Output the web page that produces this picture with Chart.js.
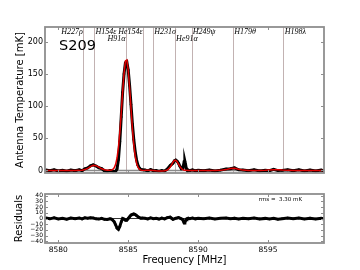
<!DOCTYPE html>
<html><head><meta charset="utf-8">
<script src="https://cdn.jsdelivr.net/npm/chart.js@4"></script>
<style>
html,body{margin:0;padding:0;background:#fff;}
#wrap{position:relative;width:360px;height:270px;overflow:hidden;}
canvas{position:absolute;left:0;}
</style></head><body>
<div id="wrap">
<canvas id="top" width="360" height="180" style="top:0"></canvas>
<canvas id="bot" width="360" height="90" style="top:180px"></canvas>
</div>
<script>
// ---- data ----
const freq = [
 8579.1,8579.4,8579.7,8580.0,8580.3,8580.6,8580.9,8581.2,8581.5,
 8581.7,8581.9,8582.1,8582.3,8582.5,8582.7,8582.9,8583.1,8583.3,8583.5,8583.7,8583.8,8583.9,
 8584.0,8584.1,8584.2,8584.3,8584.4,8584.5,8584.6,8584.7,8584.8,8584.9,8585.0,8585.1,8585.2,8585.3,8585.4,8585.5,8585.6,8585.7,8585.8,8585.9,8586.0,
 8586.2,8586.4,8586.6,8586.8,8587.0,8587.2,8587.4,8587.6,8587.8,8588.0,8588.1,8588.2,8588.3,8588.4,8588.5,8588.6,8588.7,8588.8,8588.9,8588.95,8589.0,8589.05,8589.1,8589.15,8589.2,8589.3,8589.4,8589.6,8589.8,8590.0,
 8590.4,8590.8,8591.2,8591.6,8592.0,8592.3,8592.6,8592.9,8593.2,8593.6,8594.0,8594.4,8594.8,8595.1,8595.4,8595.7,8596.0,8596.4,8596.8,8597.2,8597.6,8598.0,8598.4,8598.8,8598.95
];
const tData = [
 0.8,-0.6,1.1,-0.9,0.4,-1.2,0.7,-0.3,1.1,
 -0.4,2.5,3.8,7.1,8.7,6.9,4.2,3.0,-0.5,-1.5,-0.3,-0.4,-1.3,
 -1.8,-1.5,2.4,16.7,45.4,83.5,122.0,150.5,168.0,169.5,157.0,132.5,102.9,72.5,48.2,29.3,16.2,8.0,3.6,1.3,1.1,
 0.6,-0.6,1.2,-0.5,-0.1,-1.7,-0.1,-1.2,2.2,7.5,9.3,11.3,15.0,16.3,14.5,11.2,6.4,2.5,3.0,7.5,13.5,14.5,9.5,3.5,1.0,0.5,-0.5,0.8,-0.6,0.4,
 -0.5,0.7,-0.9,0.5,2.2,2.6,4.0,1.0,0.8,-0.6,1.0,-0.7,0.4,-0.3,1.7,-0.2,0.1,0.9,-0.5,0.9,-0.8,0.6,-0.9,0.5,-0.3
];
const tModel = [
 0,0,0,0,0,0,0,0,0.1,
 0.4,1.3,3.3,6.0,7.9,7.5,5.2,2.6,1.0,0.3,0.2,0.6,1.7,
 4.2,9.5,19.4,35.7,59.4,89.5,122.0,151.5,171.0,172.5,157.0,129.5,96.9,65.5,40.2,22.3,11.2,5.0,2.1,0.8,0.3,
 0.1,0.2,0.2,0.0,-0.4,-0.7,-0.7,-0.4,0.7,5.0,8.8,12.8,15.5,15.8,13.5,9.7,5.9,3.0,1.3,0.8,0.5,0.3,0.2,0.1,0.1,0,0,0,0,0,
 0,0,0,0.1,1.3,3.0,3.4,1.8,0.5,0,0,0,0.2,0.7,1.2,1.1,0.5,0.1,0,0,0,0,0,0,0
];
const resid = [
 0.8,-0.6,1.1,-0.9,0.4,-1.2,0.7,-0.3,1.0,
 -0.8,1.2,0.5,1.1,0.8,-0.6,-1.0,0.4,-1.5,-1.8,-0.5,-1.0,-3.0,
 -6,-11,-17,-19,-14,-6,0,-1,-3,-3,0,3,6,7,8,7,5,3,1.5,0.5,0.8,
 0.5,-0.8,1.0,-0.5,0.3,-1.0,0.6,-0.8,1.5,2.5,0.5,-1.5,-0.5,0.5,1.0,1.5,0.5,-0.5,-2,-5,-8,-7,-4,-2,-0.5,0.5,-0.5,0.8,-0.6,0.4,
 -0.5,0.7,-0.9,0.4,0.9,-0.4,0.6,-0.8,0.3,-0.6,1.0,-0.7,0.2,-1.0,0.5,-1.3,-0.4,0.8,-0.5,0.9,-0.8,0.6,-0.9,0.5,-0.3
];
const lineFreqs  = [8581.79, 8582.57, 8584.84, 8586.07, 8586.78, 8588.34, 8589.53, 8592.50, 8596.10];
const lineLabels = ['H227ρ','H154ε','H91α','He154ε','H231σ','He91α','H249ψ','H179θ','H198λ'];
const xTicks = [8580, 8585, 8590, 8595];
const yTicksTop = [0, 50, 100, 150, 200];
const yTicksRes = [40, 30, 20, 10, 0, -10, -20, -30, -40];
const sourceName = 'S209';
const rmsText = 'rms =  3.30 mK';

// ---- layout / style (not data) ----
const labelSide = ['L','R','L','L','R','R','R','R','R'];
const labelRow  = [0,0,1,0,0,1,0,0,0];
const FRAME = '#8e8e8e';

function minus(v){ return String(v).replace('-', '\u2212'); }

function decor(opts){
  return {
    id: 'decor',
    beforeDatasetsDraw(chart){
      const {ctx, chartArea:a, scales:{x, y}} = chart;
      ctx.save();
      if (opts.lines){
        ctx.strokeStyle = '#c2b2b2'; ctx.lineWidth = 1;
        lineFreqs.forEach(f => {
          const px = Math.round(x.getPixelForValue(f)) + 0.5;
          ctx.beginPath(); ctx.moveTo(px, a.top); ctx.lineTo(px, a.bottom); ctx.stroke();
        });
      }
      const y0 = y.getPixelForValue(0);
      ctx.strokeStyle = opts.zeroColor; ctx.lineWidth = opts.zeroWidth;
      ctx.beginPath(); ctx.moveTo(a.left, y0); ctx.lineTo(a.right, y0); ctx.stroke();
      ctx.restore();
    },
    afterDatasetsDraw(chart){
      const {ctx, chartArea:a, scales:{x, y}} = chart;
      ctx.save();
      ctx.strokeStyle = FRAME; ctx.lineWidth = 1.8;
      ctx.strokeRect(a.left, a.top, a.right - a.left, a.bottom - a.top);
      ctx.lineWidth = 1;
      xTicks.forEach(v => {
        const px = Math.round(x.getPixelForValue(v)) + 0.5;
        ctx.beginPath();
        ctx.moveTo(px, a.bottom); ctx.lineTo(px, a.bottom - 3);
        ctx.moveTo(px, a.top); ctx.lineTo(px, a.top + 3);
        ctx.stroke();
      });
      opts.yTicks.forEach(v => {
        const py = Math.round(y.getPixelForValue(v)) + 0.5;
        ctx.beginPath();
        ctx.moveTo(a.left, py); ctx.lineTo(a.left + 3, py);
        ctx.moveTo(a.right, py); ctx.lineTo(a.right - 3, py);
        ctx.stroke();
      });
      if (opts.lines){
        ctx.fillStyle = '#000';
        ctx.font = 'italic 8px "Liberation Serif"';
        ctx.textBaseline = 'alphabetic';
        lineFreqs.forEach((f, i) => {
          const px = x.getPixelForValue(f);
          const by = a.top + (labelRow[i] ? 14 : 7);
          if (labelSide[i] === 'L'){ ctx.textAlign = 'right'; ctx.fillText(lineLabels[i], px - 0.5, by); }
          else { ctx.textAlign = 'left'; ctx.fillText(lineLabels[i], px + 1.2, by); }
        });
        ctx.textAlign = 'left';
        ctx.font = '14.5px "DejaVu Sans"';
        ctx.fillText(sourceName, a.left + 14, a.top + 23);
      }
      if (opts.rms){
        ctx.fillStyle = '#000';
        ctx.font = '5.5px "DejaVu Sans"';
        ctx.textAlign = 'right'; ctx.textBaseline = 'middle';
        ctx.fillText(rmsText, a.right - 22, a.top + 6);
      }
      ctx.restore();
    }
  };
}

const common = { responsive:false, animation:false, devicePixelRatio:1, maintainAspectRatio:false,
  plugins:{ legend:{display:false}, tooltip:{enabled:false} } };

new Chart(document.getElementById('top'), {
  type: 'line',
  data: { datasets: [
    { data: freq.map((f,i)=>({x:f, y:tModel[i]})), borderColor:'#e00000', borderWidth:1.5, pointRadius:0, tension:0, order:0 },
    { data: freq.map((f,i)=>({x:f, y:tData[i]})), borderColor:'#000', borderWidth:3, pointRadius:1.3, pointBorderWidth:0, pointBackgroundColor:'#000', tension:0, order:1 }
  ]},
  options: Object.assign({}, common, {
    layout:{ padding:{ left:0, right:36, top:27, bottom:0 } },
    scales:{
      x:{ type:'linear', min:8579.05, max:8599, grid:{display:false, drawTicks:false}, border:{display:false},
          ticks:{display:false}, afterBuildTicks:s=>{ s.ticks = xTicks.map(v=>({value:v})); }, afterFit:s=>{ s.height = 7; } },
      y:{ type:'linear', min:-4, max:224, grid:{display:false, drawTicks:false}, border:{display:false},
          ticks:{ padding:2, color:'#000', font:{family:'DejaVu Sans', size:8}, autoSkip:false, callback:v=>minus(v) },
          afterBuildTicks:s=>{ s.ticks = yTicksTop.map(v=>({value:v})); }, afterFit:s=>{ s.width = 45; },
          title:{ display:true, text:'Antenna Temperature [mK]', color:'#000', font:{family:'DejaVu Sans', size:10}, padding:{top:14, bottom:0} } }
    }
  }),
  plugins:[ decor({lines:true, zeroColor:'#8a8a8a', zeroWidth:1.5, yTicks:yTicksTop}) ]
});

new Chart(document.getElementById('bot'), {
  type: 'line',
  data: { datasets: [
    { data: freq.map((f,i)=>({x:f, y:resid[i]})), borderColor:'#000', borderWidth:3, pointRadius:1.3, pointBorderWidth:0, pointBackgroundColor:'#000', tension:0 }
  ]},
  options: Object.assign({}, common, {
    layout:{ padding:{ left:0, right:36, top:14, bottom:0 } },
    scales:{
      x:{ type:'linear', min:8579.05, max:8599, grid:{display:false, drawTicks:false}, border:{display:false},
          ticks:{ padding:3, color:'#000', font:{family:'DejaVu Sans', size:7.5}, autoSkip:false, maxRotation:0, callback:v=>String(v) },
          afterBuildTicks:s=>{ s.ticks = xTicks.map(v=>({value:v})); }, afterFit:s=>{ s.height = 27; },
          title:{ display:true, text:'Frequency [MHz]', color:'#000', font:{family:'DejaVu Sans', size:10}, padding:{top:0, bottom:4} } },
      y:{ type:'linear', min:-43, max:43, grid:{display:false, drawTicks:false}, border:{display:false},
          ticks:{ padding:2, color:'#000', font:{family:'DejaVu Sans', size:6}, autoSkip:false, callback:v=>minus(v) },
          afterBuildTicks:s=>{ s.ticks = yTicksRes.map(v=>({value:v})); }, afterFit:s=>{ s.width = 45; },
          title:{ display:true, text:'Residuals', color:'#000', font:{family:'DejaVu Sans', size:10}, padding:{top:13.5, bottom:0} } }
    }
  }),
  plugins:[ decor({lines:false, rms:true, zeroColor:'#000', zeroWidth:0.8, yTicks:yTicksRes}) ]
});
</script>
</body></html>
